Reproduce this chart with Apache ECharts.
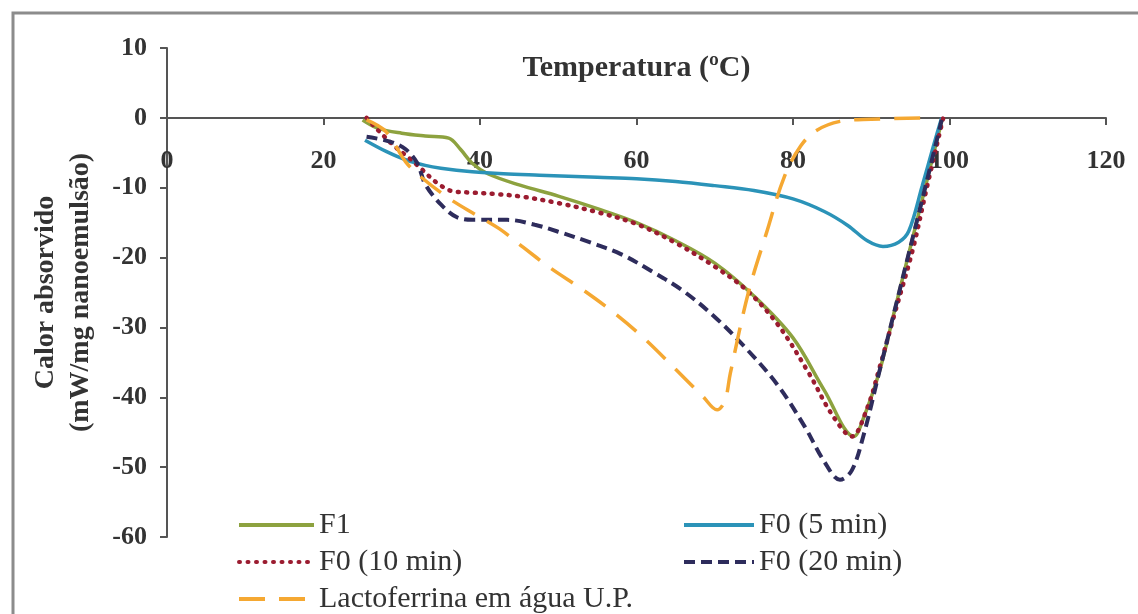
<!DOCTYPE html>
<html>
<head>
<meta charset="utf-8">
<script src="https://cdn.jsdelivr.net/npm/echarts@6/dist/echarts.min.js"></script>
<style>
  html, body { margin: 0; padding: 0; background: #fff; }
  #chart { width: 1138px; height: 614px; }
</style>
</head>
<body>
<div id="chart"></div>
<script>
// tick values
const xTicks = [0, 20, 40, 60, 80, 100, 120];
const yTicks = [-60, -50, -40, -30, -20, -10, 0, 10];

const seriesNames = ['F1', 'F0 (5 min)', 'F0 (10 min)', 'F0 (20 min)', 'Lactoferrina em água U.P.'];

// [temperatura, calor absorvido]
const f1 = [[25, -0.3], [27, -1.5], [30, -2.2], [33, -2.6], [36, -2.9], [37.5, -4.5], [39, -6.5],
  [41, -8], [45, -9.6], [50, -11.2], [55, -13], [60, -15], [65, -17.6], [70, -20.8], [75, -25.5],
  [80, -31.5], [84, -39], [87.8, -45.6], [89, -43], [91, -36.5], [93, -27.5], [95, -18.5],
  [97, -9.5], [99, -0.5]];

const f0_5 = [[25.3, -3.2], [28, -4.8], [30.5, -6], [33, -6.8], [35, -7.2], [39, -7.7], [43, -8],
  [47.6, -8.2], [55, -8.5], [60, -8.7], [65, -9.1], [70, -9.7], [75, -10.4], [80, -11.6],
  [84, -13.4], [87, -15.4], [89.5, -17.6], [91.5, -18.4], [93.5, -17.8], [94.8, -16.2],
  [96.5, -9.8], [98, -3.8], [99, 0]];

const f0_10 = [[25.5, 0], [27, -1.8], [29, -4], [31, -5.8], [32.5, -7.3], [34.5, -9.3], [36.5, -10.5],
  [39, -10.7], [42, -10.9], [45.5, -11.3], [50, -12.2], [55, -13.5], [60, -15.2], [65, -17.9],
  [70, -21.3], [74, -24.6], [78, -29.5], [82, -36.5], [85, -42.5], [87.5, -45.6],
  [89.5, -41.5], [91.1, -35.6], [93, -28], [95.3, -18.9], [97, -10.5], [99.2, 0]];

const f0_20 = [[25.5, -2.7], [28.5, -3.4], [30.5, -4.5], [32, -6.5], [33, -9.5], [35, -12.4], [37, -14.2],
  [39, -14.6], [43.5, -14.6], [47, -15.3], [50, -16.3], [54, -17.8], [58, -19.5], [62, -22],
  [66, -24.8], [70, -28.5], [74, -33], [78, -38.2], [81.5, -44.2], [84, -49.2], [86, -51.8],
  [87.5, -50.5], [89, -45.5], [91, -36.5], [93, -27.5], [95, -18.5], [97, -9.5], [99, -0.3]];

const lacto = [[25.5, -0.3], [28, -2], [30.5, -6.3], [32.5, -8.5], [36, -11.5], [39.5, -13.9],
  [42.5, -15.9], [45.5, -18.5], [49, -21.5], [53, -24.5], [57, -27.8], [61, -31.6],
  [65, -36], [68.5, -39.9], [70.3, -41.8], [71.3, -40.5], [72, -36.5], [74.3, -25], [76.6, -16.5],
  [78.9, -8.4], [81, -4], [83, -1.8], [86, -0.5], [90, -0.2], [97, 0]];

const serif = "'Liberation Serif', 'Times New Roman', serif";
const ink = '#333';

const chart = echarts.init(document.getElementById('chart'));

function line(name, data, color, width, type, cap) {
  return {
    name: name,
    type: 'line',
    data: data,
    symbol: 'none',
    showSymbol: false,
    smooth: 0.35,
    lineStyle: { color: color, width: width, type: type, cap: cap || 'butt' },
    itemStyle: { color: color }
  };
}

const legendBase = {
  orient: 'vertical',
  top: 510,
  height: 120,
  padding: 0,
  itemHeight: 12,
  itemGap: 7,
  itemStyle: { color: 'transparent', borderWidth: 0, opacity: 0 },
  lineStyle: { width: 4, color: 'inherit', type: 'inherit' },
  textStyle: { fontFamily: serif, fontSize: 30, color: ink, lineHeight: 30 }
};

chart.setOption({
  animation: false,
  backgroundColor: '#fff',
  graphic: [{
    type: 'rect',
    shape: { x: 13, y: 13, width: 1200, height: 700 },
    style: { fill: 'none', stroke: '#8c8c8c', lineWidth: 3 },
    silent: true
  }],
  grid: { left: 167, right: 32, top: 48, bottom: 77 },
  legend: [
    Object.assign({}, legendBase, {
      data: [seriesNames[0], seriesNames[2], seriesNames[4]],
      left: 237, itemWidth: 75
    }),
    Object.assign({}, legendBase, {
      data: [seriesNames[1], seriesNames[3]],
      left: 682, itemWidth: 70
    })
  ],
  xAxis: {
    type: 'value',
    min: xTicks[0], max: xTicks[xTicks.length - 1], interval: 20,
    offset: -419,
    name: 'Temperatura (ºC)',
    nameLocation: 'middle',
    nameGap: -65,
    nameTextStyle: { fontFamily: serif, fontSize: 30, fontWeight: 'bold', color: ink },
    axisLine: { onZero: false, lineStyle: { color: '#555', width: 2 } },
    axisTick: { show: true, length: 7, lineStyle: { color: '#555', width: 2 } },
    axisLabel: { margin: 30, fontFamily: serif, fontSize: 26, fontWeight: 'bold', color: ink },
    splitLine: { show: false }
  },
  yAxis: {
    type: 'value',
    min: yTicks[0], max: yTicks[yTicks.length - 1], interval: 10,
    name: 'Calor absorvido\n(mW/mg nanoemulsão)',
    nameLocation: 'middle',
    nameRotate: 90,
    nameGap: 69,
    nameTextStyle: { fontFamily: serif, fontSize: 28, fontWeight: 'bold', color: ink, lineHeight: 35 },
    axisLine: { show: true, onZero: false, lineStyle: { color: '#555', width: 2 } },
    axisTick: { show: true, length: 7, lineStyle: { color: '#555', width: 2 } },
    axisLabel: { margin: 20, fontFamily: serif, fontSize: 26, fontWeight: 'bold', color: ink },
    splitLine: { show: false }
  },
  series: [
    line(seriesNames[0], f1, '#8da23f', 3.5, 'solid'),
    line(seriesNames[1], f0_5, '#2b93b8', 3.5, 'solid'),
    line(seriesNames[2], f0_10, '#9b1c30', 4.5, [1, 7.5], 'round'),
    line(seriesNames[3], f0_20, '#2e2c5c', 4, [11, 6]),
    line(seriesNames[4], lacto, '#f5a832', 3.5, [26, 14])
  ]
});
</script>
</body>
</html>
